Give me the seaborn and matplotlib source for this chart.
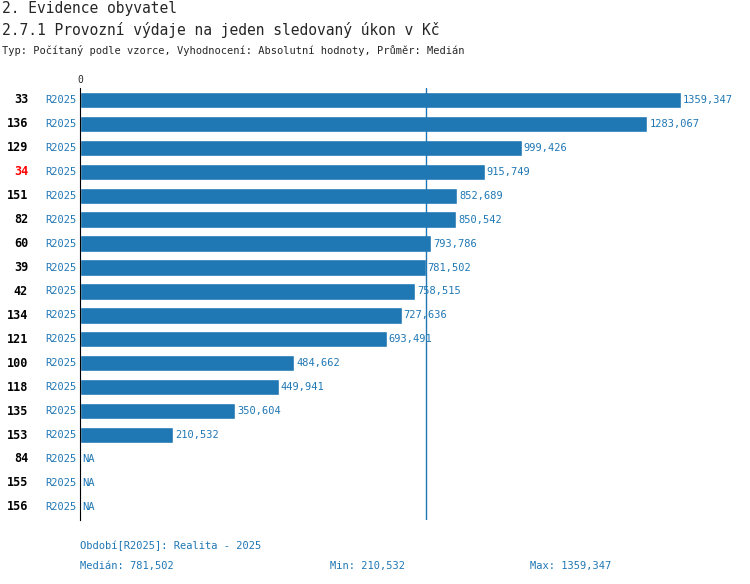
import numpy as np
import pandas as pd
import matplotlib
matplotlib.use("Agg")
import matplotlib.pyplot as plt
import seaborn as sns

ids = ["33", "136", "129", "34", "151", "82", "60", "39", "42", "134", "121", "100", "118", "135", "153", "84", "155", "156"]
values = [1359.347, 1283.067, 999.426, 915.749, 852.689, 850.542, 793.786, 781.502, 758.515,
          727.636, 693.491, 484.662, 449.941, 350.604, 210.532, np.nan, np.nan, np.nan]
period = "R2025"
highlight = "34"
median, vmin, vmax = 781.502, 210.532, 1359.347

def fmt(v):
    return "NA" if np.isnan(v) else f"{v:,.3f}".replace(",", " ").replace(".", ",").replace(" ", "")

df = pd.DataFrame({"id": ids, "value": values})
df["pos"] = range(len(df))

sns.set_style("white")
plt.rcParams["font.family"] = ["DejaVu Sans Mono"]
W, H = 750, 584
fig = plt.figure(figsize=(W / 100, H / 100), dpi=100)
blue = "#1f77b4"

x0, x1 = 80, 730
scale = 601 / vmax
ax = fig.add_axes([x0 / W, 1 - 520 / H, (x1 - x0) / W, (520 - 88) / H])
ax.barh(df["pos"], df["value"].fillna(0), height=0.68, color=blue)
ax.set_xlim(0, (x1 - x0) / scale)
ax.set_ylim(len(df) - 0.5 + 0.05, -0.5)
ax.axvline(median, color=blue, lw=1)
for s in ["top", "right", "bottom"]:
    ax.spines[s].set_visible(False)
ax.spines["left"].set_color("black")
ax.spines["left"].set_linewidth(0.8)
ax.set_yticks([])
ax.set_xticks([0])
ax.xaxis.tick_top()
ax.tick_params(axis="x", length=0, labelsize=7, pad=2)

for _, r in df.iterrows():
    v = r["value"]
    xv = 0 if np.isnan(v) else v
    ax.text(xv + 2 / scale, r["pos"], fmt(v), va="center", ha="left", fontsize=7.5, color=blue)
    ax.text(-3 / scale, r["pos"], period, va="center", ha="right", fontsize=7.5, color=blue)
    ax.text(-52 / scale, r["pos"], r["id"], va="center", ha="right", fontsize=8.5,
            fontweight="bold", color="red" if r["id"] == highlight else "black")

fig.text(2 / W, 1 - 9 / H, "2. Evidence obyvatel", fontsize=10.5, va="center")
fig.text(2 / W, 1 - 30 / H, "2.7.1 Provozní výdaje na jeden sledovaný úkon v Kč", fontsize=10.5, va="center")
fig.text(2 / W, 1 - 50 / H, "Typ: Počítaný podle vzorce, Vyhodnocení: Absolutní hodnoty, Průměr: Medián", fontsize=7.5, va="center")
fig.text(80 / W, 1 - 546 / H, "Období[R2025]: Realita - 2025", fontsize=7.5, color=blue, va="center")
fig.text(80 / W, 1 - 566 / H, f"Medián: {fmt(median)}", fontsize=7.5, color=blue, va="center")
fig.text(330 / W, 1 - 566 / H, f"Min: {fmt(vmin)}", fontsize=7.5, color=blue, va="center")
fig.text(530 / W, 1 - 566 / H, f"Max: {fmt(vmax)}", fontsize=7.5, color=blue, va="center")

fig.savefig("out.png", dpi=100)
